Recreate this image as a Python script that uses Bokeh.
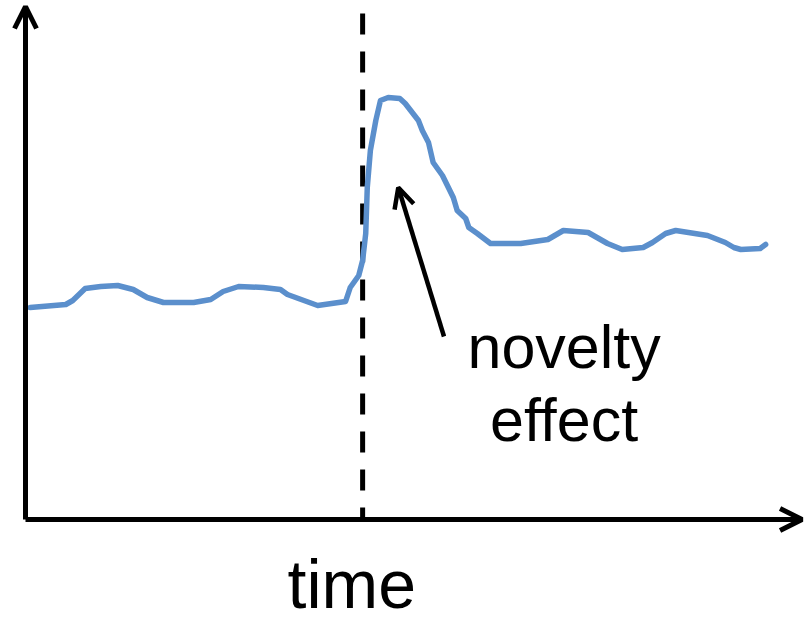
from bokeh.plotting import figure
from bokeh.models import Range1d, Arrow, OpenHead, ColumnDataSource
from bokeh.core.properties import value
from bokeh.embed import file_html
from bokeh.resources import INLINE

# ---- data (time units, response units) ----
time = [0.6, 5.2, 6.1, 7.7, 9.7, 11.9, 13.9, 15.7, 17.8, 21.7, 23.9, 25.5, 27.5,
        30.7, 32.9, 33.8, 37.7, 41.3, 41.9, 43.0, 43.5, 43.9, 44.1, 44.5, 45.2,
        45.8, 46.8, 48.3, 49.0, 50.7, 51.2, 52.0, 52.6, 53.8, 55.2, 55.7, 56.8,
        57.2, 58.3, 60.0, 63.9, 67.4, 69.4, 72.6, 75.1, 77.0, 79.7, 80.9, 82.6,
        83.9, 88.0, 90.3, 91.4, 92.3, 94.8, 95.5]
response = [42.4, 43.0, 43.8, 46.2, 46.6, 46.8, 46.0, 44.4, 43.4, 43.4, 44.0, 45.6, 46.6,
            46.4, 46.0, 45.0, 42.8, 43.6, 46.4, 48.8, 51.8, 57.2, 66.4, 73.8, 79.8,
            83.8, 84.4, 84.2, 83.2, 79.8, 77.8, 75.4, 71.4, 68.8, 64.4, 61.8, 60.2,
            58.4, 57.2, 55.2, 55.2, 56.0, 57.8, 57.4, 55.2, 54.0, 54.4, 55.4, 57.2,
            57.8, 56.8, 55.4, 54.4, 54.0, 54.2, 55.0]

change_time = 43.5          # moment of the change (dashed line)
axis_x_end = 100.2          # x axis arrow tip
axis_y_end = 102.6          # y axis arrow tip
note_tail = (54.0, 36.6)    # annotation arrow tail
note_tip = (48.1, 66.4)     # annotation arrow tip
note_lines = ["novelty", "effect"]
note_x = 69.5
note_y = [34.6, 20.0]
x_label = "time"
x_label_pos = (42.1, -12.8)

BLUE = "#5b8fcc"

p = figure(width=810, height=623, output_backend="svg", toolbar_location=None,
           x_range=Range1d(-25 / 7.75, 785 / 7.75),
           y_range=Range1d(-104 / 5, 519 / 5),
           min_border=0, min_border_left=0, min_border_right=0,
           min_border_top=0, min_border_bottom=0)
p.axis.visible = False
p.grid.visible = False
p.outline_line_color = None
p.background_fill_color = "white"
p.border_fill_color = "white"

# axes as arrows
p.add_layout(Arrow(x_start=0, y_start=0, x_end=axis_x_end, y_end=0,
                   line_width=5, line_color="black",
                   end=OpenHead(size=22, line_width=5, line_color="black")))
p.add_layout(Arrow(x_start=0, y_start=0, x_end=0, y_end=axis_y_end,
                   line_width=5, line_color="black",
                   end=OpenHead(size=22, line_width=5, line_color="black")))

# dashed change line
p.line([change_time, change_time], [101.2, 0], line_width=5, line_color="black",
       line_dash="21 17")

# response curve
p.line(time, response, line_width=5.5, line_color=BLUE, line_join="round",
       line_cap="round")

# annotation
p.add_layout(Arrow(x_start=note_tail[0], y_start=note_tail[1],
                   x_end=note_tip[0], y_end=note_tip[1],
                   line_width=4.5, line_color="black",
                   end=OpenHead(size=20, line_width=4.5, line_color="black")))

src = ColumnDataSource(dict(x=[note_x] * len(note_lines), y=note_y, t=note_lines))
p.text(x="x", y="y", text="t", source=src, text_align="center",
       text_baseline="alphabetic", text_font=value("Liberation Sans"),
       text_font_size="61px", text_color="black")

p.text(x=[x_label_pos[0]], y=[x_label_pos[1]], text=[x_label], text_align="center",
       text_baseline="alphabetic", text_font=value("Liberation Sans"),
       text_font_size="68px", text_color="black")

open("out.html", "w").write(file_html(p, INLINE))
